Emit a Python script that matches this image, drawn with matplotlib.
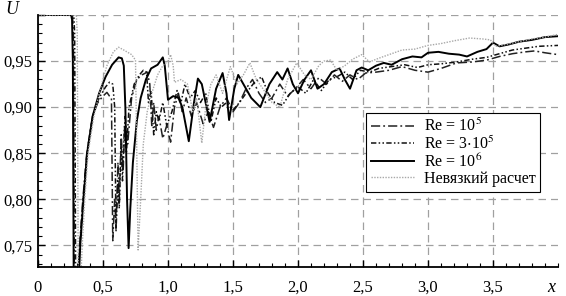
import matplotlib
matplotlib.use("Agg")
import matplotlib.pyplot as plt
from matplotlib.ticker import MultipleLocator, FixedLocator

plt.rcParams['font.family'] = ['Liberation Serif', 'DejaVu Serif']
plt.rcParams['mathtext.fontset'] = 'stix'

# Re = 10^5
x_re1 = [0, 0.265, 0.272, 0.28, 0.30, 0.32, 0.345, 0.375, 0.42, 0.46, 0.50, 0.53, 0.55, 0.565,
         0.575, 0.59, 0.60, 0.615, 0.625, 0.64, 0.655, 0.67, 0.69, 0.72, 0.76, 0.80, 0.84, 0.86,
         0.875, 0.89, 0.91, 0.93, 0.96, 0.99, 1.02, 1.05, 1.08, 1.11, 1.14, 1.18, 1.22, 1.27,
         1.31, 1.35, 1.40, 1.45, 1.50, 1.55, 1.60, 1.65, 1.70, 1.75, 1.80, 1.86, 1.92, 1.98,
         2.04, 2.10, 2.16, 2.22, 2.28, 2.34, 2.40, 2.46, 2.52, 2.60, 2.70, 2.80, 2.90, 3.00,
         3.10, 3.22, 3.34, 3.45, 3.55, 3.65, 3.75, 3.82, 3.90, 4.0]
u_re1 = [1.0, 1.0, 0.98, 0.70, 0.70, 0.75, 0.80, 0.85, 0.89, 0.905, 0.912, 0.916, 0.912, 0.91,
         0.755, 0.80, 0.77, 0.84, 0.80, 0.87, 0.83, 0.89, 0.86, 0.91, 0.93, 0.935, 0.938, 0.925,
         0.88, 0.905, 0.875, 0.89, 0.866, 0.88, 0.862, 0.90, 0.915, 0.895, 0.91, 0.89, 0.905, 0.882,
         0.895, 0.878, 0.90, 0.91, 0.895, 0.905, 0.92, 0.93, 0.915, 0.905, 0.91, 0.925, 0.912, 0.92,
         0.93, 0.92, 0.932, 0.925, 0.935, 0.928, 0.935, 0.93, 0.937, 0.938, 0.94, 0.944, 0.94, 0.938,
         0.942, 0.948, 0.949, 0.951, 0.955, 0.958, 0.96, 0.961, 0.959, 0.957]

# Re = 3*10^5
x_re3 = [0, 0.275, 0.282, 0.29, 0.305, 0.322, 0.347, 0.377, 0.42, 0.47, 0.52, 0.55, 0.575, 0.59,
         0.60, 0.615, 0.625, 0.64, 0.65, 0.665, 0.68, 0.70, 0.74, 0.78, 0.81, 0.835, 0.85, 0.87,
         0.89, 0.91, 0.93, 0.96, 0.99, 1.03, 1.07, 1.10, 1.13, 1.17, 1.21, 1.25, 1.29, 1.33,
         1.37, 1.41, 1.45, 1.50, 1.55, 1.60, 1.66, 1.72, 1.77, 1.82, 1.88, 1.94, 2.00, 2.06,
         2.12, 2.18, 2.24, 2.30, 2.36, 2.42, 2.48, 2.55, 2.62, 2.72, 2.82, 2.92, 3.00, 3.10,
         3.22, 3.34, 3.45, 3.55, 3.65, 3.75, 3.85, 4.0]
u_re3 = [1.0, 1.0, 0.98, 0.70, 0.70, 0.75, 0.80, 0.85, 0.89, 0.91, 0.922, 0.927, 0.925, 0.90,
         0.765, 0.82, 0.79, 0.86, 0.82, 0.88, 0.85, 0.90, 0.925, 0.935, 0.94, 0.938, 0.905, 0.918,
         0.87, 0.895, 0.885, 0.905, 0.88, 0.895, 0.918, 0.905, 0.925, 0.91, 0.918, 0.905, 0.915, 0.884,
         0.91, 0.90, 0.905, 0.897, 0.905, 0.915, 0.926, 0.933, 0.915, 0.905, 0.902, 0.915, 0.922, 0.915,
         0.93, 0.918, 0.93, 0.933, 0.938, 0.93, 0.94, 0.938, 0.942, 0.944, 0.946, 0.943, 0.946, 0.947,
         0.949, 0.952, 0.954, 0.958, 0.962, 0.964, 0.966, 0.967]

# Re = 10^6
x_re6 = [0, 0.255, 0.262, 0.268, 0.275, 0.31, 0.325, 0.35, 0.378, 0.42, 0.47, 0.52, 0.57, 0.62,
         0.645, 0.66, 0.672, 0.685, 0.697, 0.71, 0.73, 0.76, 0.79, 0.83, 0.87, 0.92, 0.96, 0.975,
         1.0, 1.04, 1.08, 1.11, 1.16, 1.20, 1.23, 1.26, 1.32, 1.37, 1.42, 1.45, 1.47, 1.51,
         1.54, 1.58, 1.64, 1.71, 1.78, 1.84, 1.88, 1.92, 1.96, 2.00, 2.05, 2.10, 2.15, 2.20,
         2.26, 2.32, 2.36, 2.40, 2.45, 2.49, 2.54, 2.60, 2.66, 2.72, 2.80, 2.88, 2.95, 3.00,
         3.08, 3.16, 3.24, 3.30, 3.38, 3.45, 3.50, 3.55, 3.62, 3.70, 3.80, 3.90, 4.0]
u_re6 = [1.0, 1.0, 0.995, 0.95, 0.70, 0.70, 0.75, 0.80, 0.85, 0.89, 0.915, 0.933, 0.946, 0.954,
         0.953, 0.945, 0.90, 0.80, 0.747, 0.79, 0.84, 0.885, 0.91, 0.93, 0.942, 0.946, 0.954, 0.945,
         0.908, 0.912, 0.91, 0.90, 0.863, 0.905, 0.931, 0.925, 0.884, 0.92, 0.937, 0.915, 0.886, 0.92,
         0.935, 0.925, 0.91, 0.90, 0.925, 0.938, 0.93, 0.942, 0.925, 0.915, 0.93, 0.94, 0.92, 0.925,
         0.938, 0.942, 0.93, 0.92, 0.94, 0.943, 0.94, 0.945, 0.948, 0.946, 0.952, 0.955, 0.954, 0.959,
         0.96, 0.958, 0.957, 0.955, 0.96, 0.963, 0.97, 0.966, 0.968, 0.971, 0.973, 0.976, 0.977]

# inviscid
x_inv = [0, 0.295, 0.302, 0.31, 0.325, 0.34, 0.36, 0.385, 0.43, 0.48, 0.53, 0.58, 0.62, 0.66,
         0.72, 0.75, 0.76, 0.77, 0.79, 0.81, 0.84, 0.875, 0.92, 0.96, 1.0, 1.02, 1.04, 1.05,
         1.10, 1.15, 1.19, 1.22, 1.26, 1.29, 1.33, 1.37, 1.42, 1.48, 1.53, 1.58, 1.63, 1.68,
         1.73, 1.80, 1.86, 1.92, 1.99, 2.05, 2.10, 2.16, 2.20, 2.25, 2.30, 2.36, 2.42, 2.49,
         2.55, 2.62, 2.70, 2.80, 2.90, 3.00, 3.10, 3.20, 3.32, 3.42, 3.48, 3.52, 3.60, 3.70,
         3.80, 3.90, 4.0]
u_inv = [1.0, 1.0, 0.98, 0.70, 0.70, 0.75, 0.80, 0.85, 0.89, 0.92, 0.945, 0.96, 0.965, 0.962,
         0.957, 0.951, 0.85, 0.745, 0.80, 0.86, 0.895, 0.915, 0.935, 0.945, 0.95, 0.957, 0.945, 0.927,
         0.93, 0.925, 0.895, 0.91, 0.861, 0.90, 0.925, 0.935, 0.915, 0.944, 0.925, 0.935, 0.948, 0.93,
         0.92, 0.905, 0.90, 0.93, 0.948, 0.935, 0.93, 0.945, 0.95, 0.951, 0.94, 0.945, 0.952, 0.957,
         0.949, 0.953, 0.957, 0.962, 0.963, 0.967, 0.969, 0.972, 0.975, 0.974, 0.973, 0.966, 0.968, 0.971,
         0.974, 0.976, 0.979]

xticks = [0, 0.5, 1.0, 1.5, 2.0, 2.5, 3.0, 3.5]
xtick_labels = ['0', '0,5', '1,0', '1,5', '2,0', '2,5', '3,0', '3,5']
yticks = [0.75, 0.80, 0.85, 0.90, 0.95]
ytick_labels = ['0,75', '0,80', '0,85', '0,90', '0,95']

fig = plt.figure(figsize=(5.66, 2.96), dpi=100)
ax = fig.add_axes([38/566, 29/296, 520/566, 252/296])

ax.plot(x_re1, u_re1, color='#222222', lw=1.1, ls=(0, (6, 2, 1.2, 2)), label=r'Re = 10$^5$')
ax.plot(x_re3, u_re3, color='#111111', lw=1.1, ls=(0, (3.5, 1.5, 1, 1.5, 1, 1.5)),
        label=r'Re = 3$\cdot$10$^5$')
ax.plot(x_re6, u_re6, color='black', lw=1.4, ls='-', label=r'Re = 10$^6$')
ax.plot(x_inv, u_inv, color='#a8a8a8', lw=1.0, ls=(0, (1, 1)), label='Невязкий расчет')

ax.set_xlim(0, 4.0)
ax.set_ylim(0.7265, 1.0)

ax.xaxis.set_major_locator(FixedLocator(xticks))
ax.set_xticklabels(xtick_labels)
ax.yaxis.set_major_locator(FixedLocator(yticks + [1.0]))
ax.set_yticklabels(ytick_labels + [''])
ax.xaxis.set_minor_locator(MultipleLocator(0.1))
ax.yaxis.set_minor_locator(MultipleLocator(0.01))
ax.tick_params(which='major', direction='in', length=5, width=1, labelsize=12)
ax.tick_params(which='minor', direction='in', length=3, width=0.8)
ax.tick_params(axis='x', pad=9)
ax.tick_params(axis='y', pad=4)

ax.grid(True, which='major', color='#a0a0a0', ls=(0, (6, 4)), lw=0.9)
for s in ['top', 'right']:
    ax.spines[s].set_visible(False)
ax.spines['left'].set_linewidth(1.3)
ax.spines['bottom'].set_linewidth(1.3)

leg = ax.legend(loc='upper left', bbox_to_anchor=(0.631, 0.611), fontsize=11.5, frameon=True,
                fancybox=False, edgecolor='black', framealpha=1, handlelength=2.7,
                labelspacing=0.02, borderpad=0.3, handletextpad=0.6, borderaxespad=0)
leg.get_frame().set_linewidth(0.8)

fig.text(551/566, 1 - 287/296, 'x', fontsize=13, style='italic', ha='center', va='center')
fig.text(12/566, 1 - 10/296, 'U', fontsize=13, style='italic', ha='center', va='center')

fig.savefig('out.png', dpi=100)
